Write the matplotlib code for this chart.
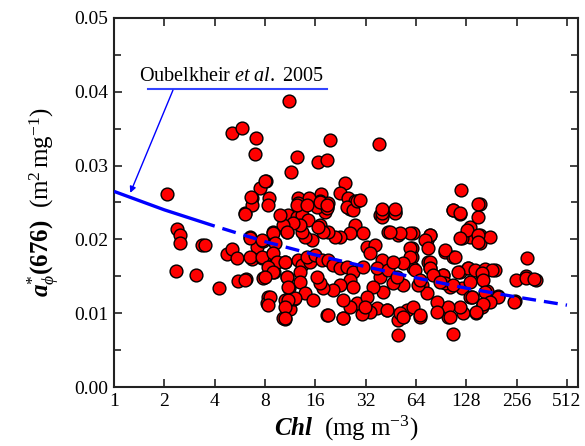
import numpy as np
import matplotlib
matplotlib.use('Agg')
import matplotlib.pyplot as plt
from matplotlib.ticker import FixedLocator, FixedFormatter, MultipleLocator

plt.rcParams['font.family'] = 'Liberation Serif'
plt.rcParams['mathtext.fontset'] = 'custom'
plt.rcParams['mathtext.rm'] = 'Liberation Serif'
plt.rcParams['mathtext.it'] = 'Liberation Serif:italic'
plt.rcParams['mathtext.bf'] = 'Liberation Serif:bold'
plt.rcParams['mathtext.bfit'] = 'Liberation Serif:bold:italic'

# measured points: Chl (mg m-3) and a*phi(676) (m2 mg-1)
chl = [2.07, 5.07, 5.83, 7.07, 6.97, 11.1, 11.4, 12.4, 8.1, 7.47, 6.69, 8.45, 6.07, 12.6,
       19.6, 38.5, 16.6, 18.8, 24.1, 22.5, 25.1, 27.6, 25.8, 17.3, 17.1, 14.6, 12.6, 18.8,
       18.3, 106.7, 119, 117, 155, 40.6, 48, 39,
       2.38, 2.48, 2.48, 2.35, 3.09, 3.36, 3.5, 4.25, 4.74, 5.07, 5.44, 5.51, 6.16, 6.51,
       6.69, 7.17, 7.78, 7.68, 7.78, 8.34, 8.2, 8.45, 8.8, 8.93, 9.06, 9.3, 10.5, 10.8,
       10.8, 11.1, 10.5, 10.5, 11.3, 11.9,
       296, 291, 254, 334, 250, 198, 170, 177, 159, 146, 122, 106.7, 50, 190, 166, 159,
       131, 117, 134, 120, 155, 155, 177, 95.6, 106.7, 93, 102.4, 120, 138, 99.6, 77.7,
       74.5, 61.4, 60.6, 60.6, 50, 43.5, 61.4, 75.6, 77.7, 69.5, 67.6, 56.6, 53.5, 50,
       42.9, 37.4, 34, 30.4, 23.4, 18.8, 10.2,
       6.69, 8.34, 6.07, 11.0, 12.4, 13.3, 14.4, 17.1, 16.4, 18.8, 19.0, 24.8, 26.9, 28.4,
       27.6, 25.8, 22.5, 21.0, 19.0, 17.8, 16.6, 15.3, 13.9, 13.3, 13.0, 11.8, 10.2, 9.83,
       6.51, 7.68, 8.93, 10.8, 9.19, 6.51, 7.68, 8.93, 9.44, 10.5, 8.34, 8.93, 8.0, 6.07,
       10.8, 12.6, 13.3, 14.9, 14.3, 15.9, 17.5, 19.0, 20.4, 22.5, 24.8, 26.9, 25.8, 26.9,
       22.5, 20.4, 17.8, 17.1, 16.4, 13.0, 13.0, 13.9, 15.5, 19.0, 12.1, 11.0, 10.5, 11.0,
       8.57, 8.34, 10.5, 23.4, 28.4, 25.8, 23.4,
       40.0, 48.0, 40.0, 106.7, 117, 134, 129, 117, 150, 77.7, 72.5, 75.6, 59, 51.4, 44.7,
       59, 59, 53.5, 63.2, 77.7, 77.7, 95.6, 109.7, 131, 114, 93, 95.6, 106.7, 144, 134,
       134, 117, 99.6, 85.6, 74.5, 65.8, 53.5, 46.6, 40.6, 39, 40, 30.8, 32.6, 36.4, 34,
       30.8, 37.4, 43.5, 46.6, 49.3, 35.4, 32.6, 31.7, 42.9, 51.4, 61.4, 67.6, 53.5, 85.6,
       102.4, 81, 67.6, 89.2,
       150, 150, 291, 325, 247, 166, 182, 159, 161, 166, 198, 177, 161, 146, 138,
       8.0, 6.6, 12.4, 14.3, 17.1, 18.8, 150, 40, 48, 29.5]
aphi = [0.0262, 0.0344, 0.0351, 0.0337, 0.0316, 0.0387, 0.0291, 0.0311, 0.0279, 0.0270,
        0.0256, 0.0256, 0.0236, 0.0256,
        0.0335, 0.0329, 0.0305, 0.0308, 0.0276, 0.0263, 0.0256, 0.0252, 0.0241, 0.0262,
        0.0252, 0.0256, 0.0249, 0.0244, 0.0237, 0.0240, 0.0267, 0.0234, 0.0248, 0.0236,
        0.0237, 0.0233,
        0.0214, 0.0206, 0.0195, 0.0157, 0.0152, 0.0192, 0.0192, 0.0134, 0.0180, 0.0187,
        0.0175, 0.0144, 0.0146, 0.0203, 0.0173, 0.0190, 0.0198, 0.0175, 0.0148, 0.0122,
        0.0114, 0.0163, 0.0179, 0.0210, 0.0156, 0.0169, 0.0169, 0.0210, 0.0149, 0.0134,
        0.0118, 0.0092, 0.0106, 0.0119,
        0.0175, 0.0150, 0.0145, 0.0145, 0.0117, 0.0124, 0.0130, 0.0117, 0.0109, 0.0101,
        0.0101, 0.0072, 0.0071, 0.0159, 0.0159, 0.0152, 0.0161, 0.0156, 0.0203, 0.0202,
        0.0206, 0.0195, 0.0203, 0.0183, 0.0176, 0.0152, 0.0136, 0.0134, 0.0122, 0.0095,
        0.0206, 0.0199, 0.0209, 0.0188, 0.0176, 0.0206, 0.0210, 0.0161, 0.0169, 0.0161,
        0.0138, 0.0095, 0.0105, 0.0095, 0.0091, 0.0105, 0.0107, 0.0102, 0.0099, 0.0094,
        0.0098, 0.0094,
        0.0247, 0.0247, 0.0234, 0.0233, 0.0230, 0.0233, 0.0226, 0.0220, 0.0244, 0.0243,
        0.0249, 0.0244, 0.0240, 0.0252, 0.0220, 0.0209, 0.0203, 0.0203, 0.0210, 0.0210,
        0.0217, 0.0199, 0.0203, 0.0210, 0.0220, 0.0222, 0.0220, 0.0233,
        0.0202, 0.0199, 0.0209, 0.0210, 0.0195, 0.0176, 0.0176, 0.0182, 0.0169, 0.0169,
        0.0163, 0.0156, 0.0149, 0.0145, 0.0149, 0.0172, 0.0165, 0.0169, 0.0176, 0.0179,
        0.0172, 0.0172, 0.0165, 0.0161, 0.0163, 0.0156, 0.0145, 0.0136, 0.0138, 0.0132,
        0.0134, 0.0141, 0.0149, 0.0156, 0.0142, 0.0128, 0.0118, 0.0098, 0.0121, 0.0118,
        0.0109, 0.0136, 0.0122, 0.0111, 0.0094, 0.0094, 0.0114, 0.0109, 0.0118,
        0.0230, 0.0236, 0.0236, 0.0240, 0.0236, 0.0217, 0.0213, 0.0202, 0.0206, 0.0206,
        0.0199, 0.0188, 0.0209, 0.0209, 0.0210, 0.0188, 0.0176, 0.0168, 0.0159, 0.0169,
        0.0161, 0.0186, 0.0176, 0.0161, 0.0156, 0.0152, 0.0141, 0.0138, 0.0159, 0.0142,
        0.0122, 0.0109, 0.0109, 0.0115, 0.0128, 0.0138, 0.0138, 0.0141, 0.0129, 0.0149,
        0.0172, 0.0209, 0.0190, 0.0192, 0.0182, 0.0163, 0.0161, 0.0159, 0.0169, 0.0149,
        0.0136, 0.0122, 0.0109, 0.0105, 0.0101, 0.0109, 0.0098, 0.0095, 0.0102, 0.0095,
        0.0152, 0.0145, 0.0142,
        0.0231, 0.0196, 0.0148, 0.0146, 0.0115, 0.0160, 0.0158, 0.0154, 0.0145, 0.0129,
        0.0122, 0.0115, 0.0112, 0.0102, 0.0122,
        0.0279, 0.0257, 0.0247, 0.0247, 0.0251, 0.0247, 0.0248, 0.0241, 0.0241, 0.0253]

# Oubelkheir et al. 2005 relation
fit_chl = [1, 2, 4, 8, 16, 32, 64, 128, 256, 512]
fit_a = [0.0265, 0.0240, 0.0218, 0.0197, 0.0179, 0.0163, 0.0148, 0.0134, 0.0122, 0.0111]

xticks = [1, 2, 4, 8, 16, 32, 64, 128, 256, 512]

fig = plt.figure(figsize=(5.85, 4.46), dpi=100)
ax = fig.add_axes([0.195, 0.132, 0.793, 0.828])

ax.scatter(chl, aphi, s=85, facecolor='#ff0000', edgecolor='black', linewidth=1.0, zorder=3)

ax.plot(fit_chl[:3], fit_a[:3], color='#0000ff', lw=2.4, solid_capstyle='butt', zorder=4)
ax.plot(fit_chl[2:], fit_a[2:], color='#0000ff', lw=2.4, linestyle=(4.2, (4.2, 2.4)),
        dash_capstyle='butt', zorder=4)

ax.set_xscale('log', base=2)
ax.set_xlim(1, 596)
ax.set_ylim(0, 0.05)
ax.xaxis.set_major_locator(FixedLocator(xticks))
ax.xaxis.set_major_formatter(FixedFormatter([str(t) for t in xticks]))
ax.xaxis.set_minor_locator(FixedLocator([]))
ax.yaxis.set_major_locator(MultipleLocator(0.01))
ax.yaxis.set_minor_locator(MultipleLocator(0.005))
ax.yaxis.set_major_formatter(plt.FormatStrFormatter('%.2f'))

ax.tick_params(which='both', direction='in', top=True, right=True, labelsize=14,
               color='#222222', width=1.2)
ax.tick_params(which='major', length=6, pad=4)
ax.tick_params(which='minor', length=5)
for s in ax.spines.values():
    s.set_linewidth(1.5)
    s.set_color('#222222')

ax.set_xlabel(r'$\mathbfit{Chl}$  $(\mathrm{mg\ m}^{-3})$', fontsize=18, labelpad=3)
ax.set_ylabel(r'$\mathbfit{a}^{*}_{\phi}\mathbf{(676)}$  $(\mathrm{m}^{2}\,\mathrm{mg}^{-1})$',
              fontsize=18, labelpad=9)

# annotation for the literature curve
ax.text(5.07, 0.0421, r'Oubelkheir $et\ al.$ 2005', fontsize=14.5, ha='center', va='center')
ax.plot([1.6, 18.8], [0.0404, 0.0404], color='#3344ff', lw=1.5, clip_on=False)
ax.annotate('', xy=(1.25, 0.0263), xytext=(2.25, 0.0402),
            arrowprops=dict(arrowstyle='-|>', color='#0000ff', lw=1.0,
                            mutation_scale=9, shrinkA=0, shrinkB=0))

fig.savefig('out.png', dpi=100)
